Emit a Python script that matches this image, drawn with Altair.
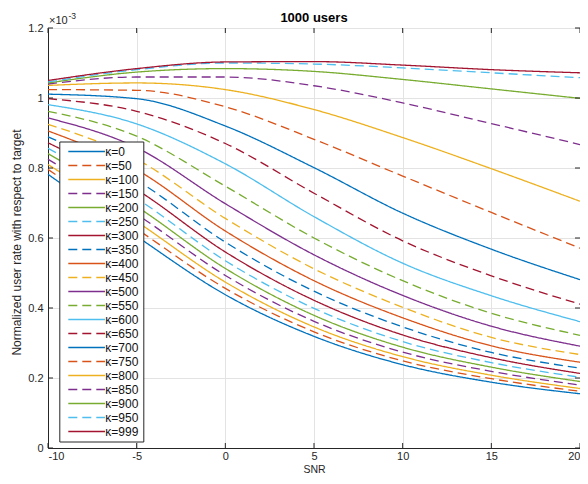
import altair as alt
import pandas as pd

# ---------------- data (rates in units of 1e-3) ----------------
snr = [-10, -5, 0, 5, 10, 15, 20]
kappas = [0, 50, 100, 150, 200, 250, 300, 350, 400, 450, 500,
          550, 600, 650, 700, 750, 800, 850, 900, 950, 999]

rate_k0   = [0.782, 0.605, 0.438, 0.319, 0.238, 0.188, 0.155]
rate_k50  = [0.796, 0.626, 0.456, 0.332, 0.249, 0.198, 0.162]
rate_k100 = [0.810, 0.647, 0.474, 0.346, 0.261, 0.208, 0.170]
rate_k150 = [0.825, 0.668, 0.493, 0.362, 0.274, 0.219, 0.180]
rate_k200 = [0.841, 0.690, 0.513, 0.379, 0.288, 0.231, 0.190]
rate_k250 = [0.856, 0.713, 0.535, 0.399, 0.304, 0.244, 0.202]
rate_k300 = [0.872, 0.738, 0.560, 0.422, 0.323, 0.258, 0.213]
rate_k350 = [0.889, 0.765, 0.588, 0.448, 0.346, 0.273, 0.228]
rate_k400 = [0.906, 0.795, 0.620, 0.478, 0.372, 0.292, 0.245]
rate_k450 = [0.925, 0.825, 0.656, 0.512, 0.402, 0.316, 0.267]
rate_k500 = [0.943, 0.858, 0.698, 0.552, 0.436, 0.348, 0.291]
rate_k550 = [0.962, 0.891, 0.748, 0.600, 0.478, 0.385, 0.322]
rate_k600 = [0.981, 0.926, 0.812, 0.661, 0.528, 0.435, 0.361]
rate_k650 = [0.998, 0.962, 0.870, 0.728, 0.592, 0.492, 0.411]
rate_k700 = [1.011, 0.998, 0.920, 0.801, 0.671, 0.568, 0.481]
rate_k750 = [1.024, 1.022, 0.975, 0.882, 0.777, 0.673, 0.571]
rate_k800 = [1.036, 1.043, 1.024, 0.967, 0.887, 0.798, 0.705]
rate_k850 = [1.040, 1.060, 1.060, 1.035, 0.986, 0.927, 0.867]
rate_k900 = [1.043, 1.074, 1.084, 1.076, 1.053, 1.026, 0.999]
rate_k950 = [1.046, 1.081, 1.100, 1.097, 1.086, 1.072, 1.058]
rate_k999 = [1.050, 1.084, 1.103, 1.104, 1.094, 1.081, 1.072]

curves = [rate_k0, rate_k50, rate_k100, rate_k150, rate_k200, rate_k250,
          rate_k300, rate_k350, rate_k400, rate_k450, rate_k500, rate_k550,
          rate_k600, rate_k650, rate_k700, rate_k750, rate_k800, rate_k850,
          rate_k900, rate_k950, rate_k999]

x_ticks = [-10, -5, 0, 5, 10, 15, 20]
y_ticks = [0, 0.2, 0.4, 0.6, 0.8, 1, 1.2]

# ---------------- styling ----------------
matlab = ["#0072BD", "#D95319", "#EDB120", "#7E2F8E", "#77AC30", "#4DBEEE", "#A2142F"]
labels = [f"κ={k}" for k in kappas]
colors = [matlab[i % 7] for i in range(len(labels))]
dashes = [[1, 0] if i % 2 == 0 else [9, 5] for i in range(len(labels))]

W, H = 532, 420
AX = "#262626"
FONT = "Liberation Sans"

rows = []
for lab, vals in zip(labels, curves):
    for x, v in zip(snr, vals):
        rows.append({"snr": x, "rate": v, "label": lab})
df = pd.DataFrame(rows)

leg = alt.Legend(
    title=None, orient="none", legendX=11.3, legendY=113.5,
    symbolType="M0,0H18", symbolSize=16.6, symbolStrokeWidth=1.3,
    symbolOffset=-1, symbolFillColor="transparent",
    labelFontSize=12, labelFont=FONT, labelColor="#111111",
    fillColor="white", strokeColor=AX, padding=4, rowPadding=2.0,
    labelOffset=31, symbolLimit=0, labelLimit=0,
)

lines = alt.Chart(df).mark_line(strokeWidth=1.3, interpolate="monotone").encode(
    x=alt.X("snr:Q",
            scale=alt.Scale(domain=[-10, 20], nice=False, zero=False),
            axis=alt.Axis(values=x_ticks, title="SNR", grid=True, ticks=False,
                          labelPadding=2, labelExpr="'' + datum.value",
                          titleY=24.6, titleBaseline="alphabetic", titleFontSize=10.5)),
    y=alt.Y("rate:Q",
            scale=alt.Scale(domain=[0, 1.2], nice=False, zero=False),
            axis=alt.Axis(values=y_ticks,
                          title="Normalized user rate with respect to target",
                          grid=True, ticks=False, labelPadding=5,
                          labelExpr="'' + datum.value",
                          titleX=-28, titleY=214, titleAngle=270, titleAlign="center",
                          titleBaseline="alphabetic")),
    color=alt.Color("label:N", scale=alt.Scale(domain=labels, range=colors), legend=leg),
    strokeDash=alt.StrokeDash("label:N", scale=alt.Scale(domain=labels, range=dashes), legend=leg),
)

xt = pd.DataFrame({"snr": x_ticks})
yt = pd.DataFrame({"rate": y_ticks})
tick_len = 5
bottom_ticks = alt.Chart(xt).mark_rule(color=AX, strokeWidth=1).encode(
    x="snr:Q", y=alt.value(H), y2=alt.value(H - tick_len))
top_ticks = alt.Chart(xt).mark_rule(color=AX, strokeWidth=1).encode(
    x="snr:Q", y=alt.value(0), y2=alt.value(tick_len))
left_ticks = alt.Chart(yt).mark_rule(color=AX, strokeWidth=1).encode(
    y="rate:Q", x=alt.value(0), x2=alt.value(tick_len))
right_ticks = alt.Chart(yt).mark_rule(color=AX, strokeWidth=1).encode(
    y="rate:Q", x=alt.value(W), x2=alt.value(W - tick_len))

txt_df = pd.DataFrame({"base": ["×10"], "pw": ["-3"], "title": ["1000 users"]})
exp_base = alt.Chart(txt_df).mark_text(
    align="left", baseline="alphabetic", fontSize=11, font=FONT, color=AX
).encode(text="base:N", x=alt.value(1), y=alt.value(-4))
exp_pow = alt.Chart(txt_df).mark_text(
    align="left", baseline="alphabetic", fontSize=8.5, font=FONT, color=AX
).encode(text="pw:N", x=alt.value(20.5), y=alt.value(-9))
title_txt = alt.Chart(txt_df).mark_text(
    align="center", baseline="alphabetic", fontSize=13, fontWeight="bold",
    font=FONT, color="#000000"
).encode(text="title:N", x=alt.value(W / 2), y=alt.value(-6))

chart = alt.layer(
    lines, bottom_ticks, top_ticks, left_ticks, right_ticks,
    exp_base, exp_pow, title_txt
).properties(
    width=W, height=H,
    autosize=alt.AutoSizeParams(type="none"),
    padding={"left": 40, "top": 20, "right": 0, "bottom": 27},
).configure_axis(
    labelFont=FONT, labelFontSize=11, labelColor=AX,
    titleFont=FONT, titleFontSize=12, titleColor=AX, titleFontWeight="normal",
    domainColor=AX, domainWidth=1, gridColor="#e3e3e3", gridWidth=1,
).configure_view(stroke=AX, strokeWidth=1)

chart.save("out.html", embed_options={"renderer": "svg", "actions": False})
